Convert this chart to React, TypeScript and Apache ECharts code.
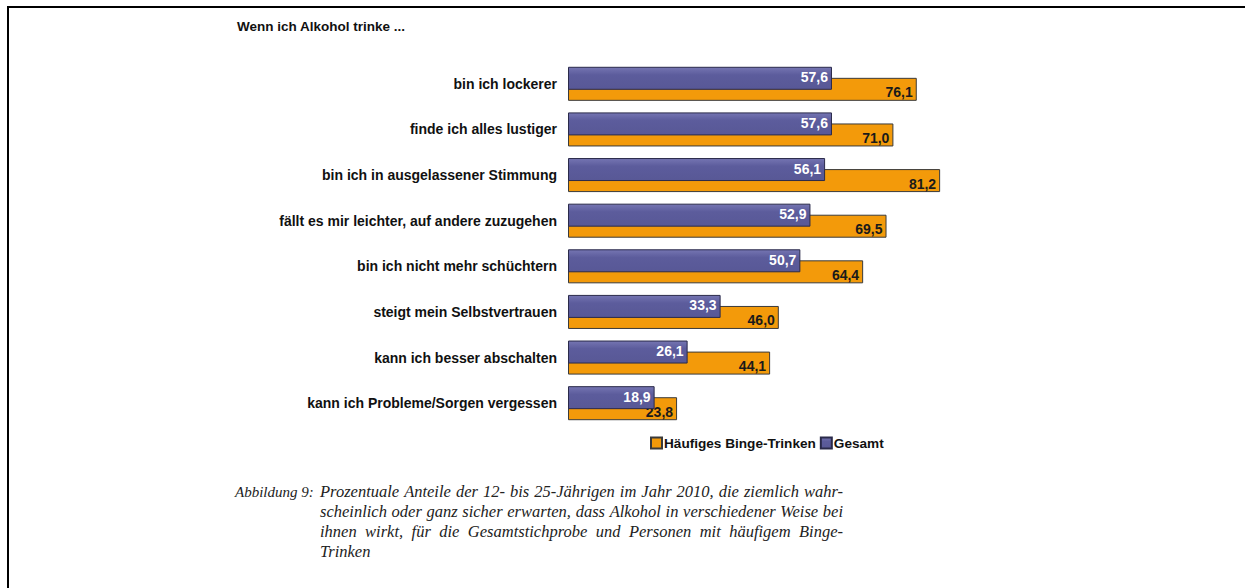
import React, { useEffect, useRef } from "react";
import * as echarts from "echarts";

const categories = [
  "bin ich lockerer",
  "finde ich alles lustiger",
  "bin ich in ausgelassener Stimmung",
  "fällt es mir leichter, auf andere zuzugehen",
  "bin ich nicht mehr schüchtern",
  "steigt mein Selbstvertrauen",
  "kann ich besser abschalten",
  "kann ich Probleme/Sorgen vergessen",
];
const bingeValues = [76.1, 71.0, 81.2, 69.5, 64.4, 46.0, 44.1, 23.8];
const gesamtValues = [57.6, 57.6, 56.1, 52.9, 50.7, 33.3, 26.1, 18.9];
const seriesNames = ["Häufiges Binge-Trinken", "Gesamt"];
const title = "Wenn ich Alkohol trinke ...";
const captionLabel = "Abbildung 9:";
const captionLines = [
  "Prozentuale Anteile der 12- bis 25-Jährigen im Jahr 2010, die ziemlich wahr-",
  "scheinlich oder ganz sicher erwarten, dass Alkohol in verschiedener Weise bei",
  "ihnen wirkt, für die Gesamtstichprobe und Personen mit häufigem Binge-",
  "Trinken",
];

const fmt = (p: any) => String(Number(p.value).toFixed(1)).replace(".", ",");

export default function App() {
  const ref = useRef<HTMLDivElement>(null);
  useEffect(() => {
    const chart = echarts.init(ref.current!, undefined, { renderer: "svg" });
    const sans = "Liberation Sans, Arial, sans-serif";
    const serif = "Liberation Serif, Times New Roman, serif";
    const capSize = 16.5;
    const blue = new echarts.graphic.LinearGradient(0, 0, 0, 1, [
      { offset: 0, color: "#7575b2" },
      { offset: 0.35, color: "#5c5c9c" },
      { offset: 1, color: "#585896" },
    ]);
    const orange = "#f39a0a";

    // justified caption lines: measure words
    const canvas = document.createElement("canvas");
    const ctx = canvas.getContext("2d")!;
    ctx.font = `italic ${capSize}px ${serif}`;
    const capLeft = 320;
    const capRight = 843;
    const capTop = 483;
    const capLH = 20;
    const captionGraphics: any[] = [];
    captionLines.forEach((line, i) => {
      const y = capTop + i * capLH;
      const justify = i < captionLines.length - 1;
      if (!justify) {
        captionGraphics.push({
          type: "text",
          left: capLeft,
          top: y,
          style: { text: line, fontFamily: serif, fontStyle: "italic", fontSize: capSize, fill: "#222" },
        });
        return;
      }
      const words = line.split(" ");
      const widths = words.map((w) => ctx.measureText(w).width);
      const total = widths.reduce((a, b) => a + b, 0);
      const gap = (capRight - capLeft - total) / (words.length - 1);
      let x = capLeft;
      words.forEach((w, j) => {
        captionGraphics.push({
          type: "text",
          x,
          y,
          style: { text: w, fontFamily: serif, fontStyle: "italic", fontSize: capSize, fill: "#222", textVerticalAlign: "top" },
        });
        x += widths[j] + gap;
      });
    });

    chart.setOption({
      animation: false,
      backgroundColor: "#ffffff",
      grid: { left: 568, width: 458.3, top: 61, height: 365, containLabel: false },
      xAxis: {
        type: "value",
        min: 0,
        max: 100,
        show: false,
      },
      yAxis: {
        type: "category",
        data: categories,
        inverse: true,
        axisLine: { show: false },
        axisTick: { show: false },
        axisLabel: {
          margin: 11,
          color: "#111",
          fontFamily: sans,
          fontWeight: "bold",
          fontSize: 14,
        },
      },
      legend: {
        left: 645,
        top: 431,
        itemWidth: 11,
        itemHeight: 11,
        itemGap: 4,
        icon: "rect",
        data: seriesNames,
        textStyle: { fontFamily: sans, fontWeight: "bold", fontSize: 13.6, color: "#111", padding: [0, 0, 0, -3] },
      },
      series: [
        {
          name: seriesNames[1],
          type: "bar",
          data: gesamtValues,
          barWidth: 23,
          barGap: "-52%",
          z: 3,
          itemStyle: { color: blue, borderColor: "#2a2a4a", borderWidth: 1 },
          label: {
            show: true,
            position: "insideRight",
            distance: 4,
            offset: [0, -1],
            formatter: fmt,
            color: "#ffffff",
            fontFamily: sans,
            fontWeight: "bold",
            fontSize: 14,
          },
        },
        {
          name: seriesNames[0],
          type: "bar",
          data: bingeValues,
          barWidth: 23,
          barGap: "-52%",
          z: 2,
          itemStyle: { color: orange, borderColor: "#3a3a3a", borderWidth: 1 },
          label: {
            show: true,
            position: "insideRight",
            distance: 4,
            offset: [0, 3],
            formatter: fmt,
            color: "#1a1a1a",
            fontFamily: sans,
            fontWeight: "bold",
            fontSize: 14,
          },
        },
      ],
      graphic: [
        { type: "rect", shape: { x: 7, y: 6, width: 1240, height: 2 }, style: { fill: "#000" } },
        { type: "rect", shape: { x: 7, y: 6, width: 2, height: 590 }, style: { fill: "#000" } },
        {
          type: "text",
          left: 237,
          top: 19,
          style: { text: title, fontFamily: sans, fontWeight: "bold", fontSize: 13.5, fill: "#111" },
        },
        {
          type: "text",
          left: 235,
          top: capTop + 1,
          style: { text: captionLabel, fontFamily: serif, fontStyle: "italic", fontSize: 15, fill: "#222" },
        },
        ...captionGraphics,
      ],
    });
    return () => chart.dispose();
  }, []);
  return (
    <div
      ref={ref}
      style={{ position: "absolute", left: 0, top: 0, width: 1245, height: 588 }}
    />
  );
}
